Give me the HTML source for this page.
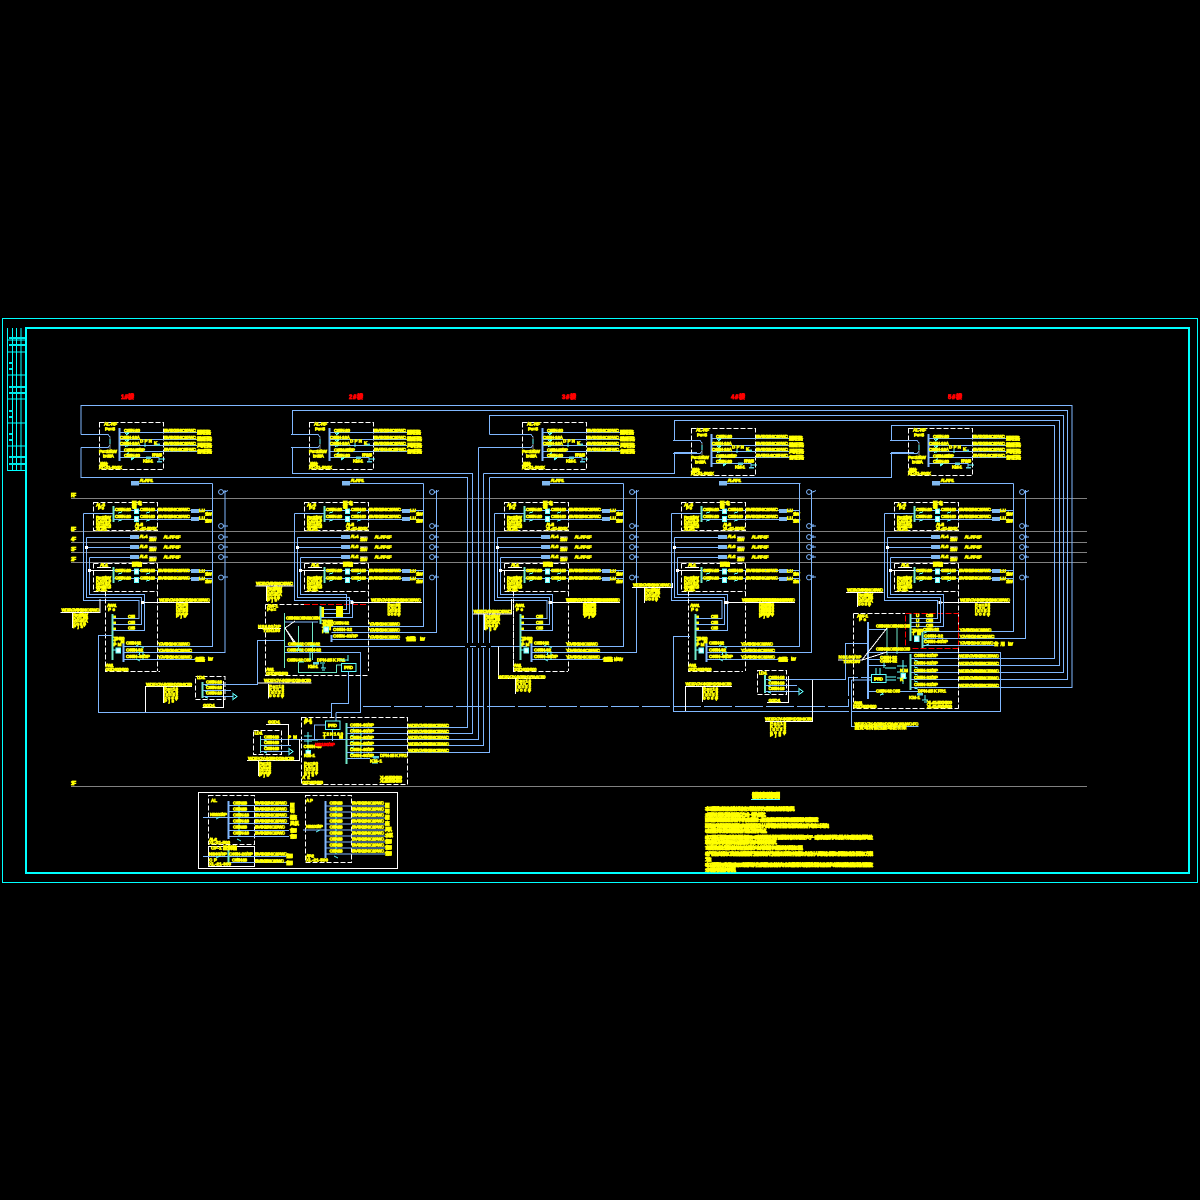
<!DOCTYPE html>
<html><head><meta charset="utf-8"><style>
html,body{margin:0;padding:0;background:#000}
svg{display:block}
text{font-family:"Liberation Sans","Noto Sans CJK SC",sans-serif;font-weight:700;font-size:4.6px;fill:#ff0;stroke:#ff0;stroke-width:.75}
.k text,text.k{font-size:5px;stroke-width:.8}
path,rect,line{shape-rendering:crispEdges}
.b{fill:none;stroke:#80b8ff;stroke-width:1}
.bb{fill:none;stroke:#80b8ff;stroke-width:2}
.g{fill:none;stroke:#70e8c8;stroke-width:1}
.gg{fill:none;stroke:#70e8c8;stroke-width:1.6}
.c{fill:none;stroke:#60ffff;stroke-width:1}
.w{fill:none;stroke:#fff;stroke-width:1}
.d{fill:none;stroke:#fff;stroke-width:1;stroke-dasharray:5 2}
.r{fill:none;stroke:#f00;stroke-width:1;stroke-dasharray:6 2}
.t{fill:#80b8f0;stroke:none}
.s{fill:#e8ffff;stroke:#60ffff;stroke-width:.8}
.y{fill:#ff0;stroke:none}
</style></head><body>
<svg width="1200" height="1200" viewBox="0 0 1200 1200" xmlns="http://www.w3.org/2000/svg">
<rect width="1200" height="1200" fill="#000"/>
<!-- frame -->
<rect x="2.5" y="318.5" width="1195" height="564" fill="none" stroke="#00ffff"/>
<rect x="26" y="328" width="1163" height="545" fill="none" stroke="#00ffff" stroke-width="2"/>
<path fill="none" stroke="#00ffff" stroke-width="1" d="M7.5 328V470.5H26M12.5 328V470.5M16.5 328V470.5M21 328V470.5M7.5 340H26M7.5 352H26M7.5 375H26M7.5 399H26M7.5 423H26M7.5 446H26"/>
<g fill="#00e8e8"><rect x="9" y="337" width="16" height="2"/><rect x="9" y="344" width="16" height="2"/><rect x="9" y="362" width="4" height="2"/><rect x="9" y="368" width="3" height="2"/><rect x="9" y="386" width="16" height="2"/><rect x="9" y="392" width="16" height="2"/><rect x="9" y="410" width="4" height="2"/><rect x="9" y="416" width="3" height="2"/><rect x="9" y="433" width="3" height="2"/><rect x="9" y="439" width="3" height="2"/><rect x="9" y="456" width="16" height="2"/><rect x="9" y="463" width="16" height="2"/></g>

<!-- floor lines -->
<path fill="none" stroke="#808080" d="M71 498.5H1087M71 531.5H1087M71 542.5H1087M71 552.5H1087M71 562.5H1087M71 786.5H1087"/>
<g class="k"><text x="71" y="497" textLength="5">RF</text><text x="71" y="531" textLength="5">5F</text><text x="71" y="541" textLength="5">4F</text><text x="71" y="551" textLength="5">3F</text><text x="71" y="561" textLength="5">2F</text><text x="71" y="785" textLength="5">1F</text></g>

<!-- titles -->
<g style="fill:#f00"><text x="121" y="399" textLength="13" style="fill:#f00;stroke:#f00;font-size:6px;stroke-width:.8">1#楼</text><text x="349" y="399" textLength="14" style="fill:#f00;stroke:#f00;font-size:6px;stroke-width:.8">2#楼</text><text x="562" y="399" textLength="14" style="fill:#f00;stroke:#f00;font-size:6px;stroke-width:.8">3#楼</text><text x="731" y="399" textLength="14" style="fill:#f00;stroke:#f00;font-size:6px;stroke-width:.8">4#楼</text><text x="948" y="399" textLength="14" style="fill:#f00;stroke:#f00;font-size:6px;stroke-width:.8">5#楼</text></g>

<!-- long feeders -->
<path class="b" d="M81 434.5V405.5H1072V687.5H946M81 447.5V477.5H467.5V643M467.5 648V727.5H407"/>
<path class="b" d="M292.5 434.5V410.5H1067.5V679.5H946M292.5 447.5V473.5H472.5V643M472.5 648V733.5H407"/>
<path class="b" d="M489.5 434.5V415.5H1063.5V672.5H946M478.5 447.5H528M478.5 447.5V643M478.5 648V739.5H407"/>
<path class="b" d="M674.5 440.5V420.5H1059.5V665.5H946M674.5 440.5H697M483.5 473.5H674.5V452.5H697M483.5 473.5V643M483.5 648V745.5H407"/>
<path class="b" d="M891.5 440.5V425.5H1054.5V658.5H946M891.5 440.5H914M489.5 477.5H891.5V452.5H914M489.5 477.5V643M489.5 648V752.5H407"/>
<path class="b" d="M292.5 434.5H315M292.5 447.5V449M292.5 447.5H315M489.5 434.5H528"/>
<path class="b" d="M319 646.5H465M470 646.5H476M481 646.5H486M491 646.5H527"/>
<path class="b" stroke-dasharray="28 3" d="M363 706.5H848.5V677.5H880"/>

<!-- TOP UNIT -->
<g id="t">
<rect class="d" x="99.5" y="422.5" width="64" height="47"/>
<path class="bb" d="M119.5 428V461"/>
<path class="b" d="M81 434.5H108L110 437M81 447.5H108L110 445M119.5 432.5H197M119.5 439.5H197M119.5 445.5H197M119.5 451.5H197M119.5 457.5H159V462"/>
<path fill="none" stroke="#888" d="M110 437V449"/>
<path class="c" d="M110 439V444M125 433.5l4-1M129 433l-3 2M125 440.5l4-1M129 440l-3 2M125 446.5l4-1M129 452.5l-3 2M131 458.5l4-1M134 458l-3 2M145 443V447M159 459h6"/>
<rect x="155" y="443.5" width="5" height="2.5" fill="#5fd0e0"/><rect x="146" y="456.5" width="5" height="2.5" fill="#5fd0e0"/><rect x="157" y="461" width="5" height="1.5" fill="#5fd0e0"/>
<text x="104" y="425.5" textLength="13">AL-RF</text><text x="105" y="430.5" textLength="10">Pe=5</text><text x="124" y="432" textLength="16">C65N-20</text><text x="120" y="439" textLength="20">C65N-16A</text><text x="120" y="445" textLength="20">C65N-16A</text><text x="124" y="451.5" textLength="21">C65N-25/3P</text><text x="124" y="457" textLength="16">C65N-20</text><text x="140" y="442.5" textLength="12">DPN</text><text x="154" y="444.5" textLength="5">K</text><text x="143" y="462.5" textLength="10">KM-1</text><text x="152" y="456.5" textLength="10">FR1-25</text>
<text x="99" y="453" textLength="18">Pe=15kW</text><text x="103" y="457.5" textLength="11">Ic=28A</text><text x="100" y="466" textLength="8">箱体</text><text x="99" y="469" textLength="23">XL-21-500X</text>
<text x="164" y="432" textLength="32">BV-3X2.5-SC20-WC</text><text x="164" y="439" textLength="32">BV-3X2.5-SC20-WC</text><text x="164" y="445" textLength="32">BV-3X2.5-SC20-WC</text><text x="164" y="451" textLength="32">BV-5X4-SC25-WC</text>
<text x="197" y="434" textLength="14">照明回路</text><text x="197" y="440.5" textLength="15">插座回路</text><text x="197" y="447" textLength="15">风机回路</text><text x="197" y="453" textLength="15">备用回路</text>
</g>
<use href="#t" x="210"/><use href="#t" x="423"/><use href="#t" x="592" y="6"/><use href="#t" x="809" y="6"/>

<!-- FLOOR UNIT -->
<g id="f">
<rect class="d" x="93.5" y="502.5" width="64" height="28"/>
<path class="d" d="M93.5 563.5H157.5M93.5 563.5V591.5H157.5M157.5 563.5V671"/>
<path class="gg" d="M113.5 506V522M113.5 567V583"/>
<path class="b" d="M113.5 510.5H212M113.5 519.5H212M113.5 570.5H212M113.5 578.5H212"/>
<path class="b" d="M83.5 513.5H113M83.5 513.5V600.5H120M86.5 537.5H130M86.5 537.5V597.5H120M86.5 547.5H130M89.5 557.5H130M89.5 557.5V594.5H120"/>
<path class="w" d="M89.5 570.5H113"/>
<rect x="85" y="546" width="3" height="3" fill="#fff"/><rect x="88" y="569" width="3" height="3" fill="#fff"/>
<rect class="t" x="191" y="509" width="8" height="4"/><rect class="t" x="191" y="517" width="8" height="4"/><rect class="t" x="191" y="569" width="8" height="4"/><rect class="t" x="191" y="577" width="8" height="4"/>
<rect class="t" x="130" y="535" width="9" height="4"/><rect class="t" x="130" y="545" width="9" height="4"/><rect class="t" x="130" y="555" width="9" height="4"/>
<rect class="t" x="131" y="481" width="8" height="4.5"/>
<path class="b" d="M139 483.5H212.5"/>
<rect class="s" x="134.5" y="509" width="4" height="4.5"/><rect class="s" x="134.5" y="516.5" width="4" height="5"/><rect class="s" x="134.5" y="569" width="4" height="5"/><rect class="s" x="134.5" y="577.5" width="4" height="5"/>
<path class="c" d="M118 513l4-1M118 521l4-1M146 513l4-1M146 521l4-1M118 574l4-1M118 581l4-1M146 574l4-1M146 581l4-1"/>
<g class="b"><circle cx="221" cy="492" r="2.4"/><circle cx="221" cy="526" r="2.4"/><circle cx="221" cy="537" r="2.4"/><circle cx="221" cy="547" r="2.4"/><circle cx="221" cy="557" r="2.4"/><circle cx="221" cy="577.5" r="2.4"/></g>
<path class="b" d="M223 492.5l3-1 2-1M223 526h5M225 524v3M223 537h5M225 535v3M223 547h5M225 545v3M223 557h5M225 555v3M223 577h5M225 575v3"/>
<text x="139.5" y="482" textLength="13.5">AL-RF-1</text>
<text x="96" y="506.5" textLength="9">AL-5</text><text x="98" y="509.5" textLength="6">Pe</text><text x="132" y="505" textLength="10">配电</text><text x="132" y="508" textLength="10">箱</text>
<text x="115" y="511" textLength="16">C65N-20</text><text x="140" y="511" textLength="15">C65N-20</text><text x="115" y="518" textLength="16">C65N-20</text><text x="140" y="518" textLength="15">C65N-20</text>
<text x="158" y="511" textLength="32">BV-3X2.5-SC20-WC</text><text x="158" y="518" textLength="32">BV-3X2.5-SC20-WC</text>
<text x="199" y="512" textLength="6">LU</text><text x="205" y="515.5" textLength="7">1.5kW</text><text x="199" y="519.5" textLength="6">LU</text><text x="205" y="522.5" textLength="7">1.5kW</text>
<text x="96" y="519" textLength="15">Pe=10kW</text><text x="96" y="522" textLength="15">Kx=0.9</text><text x="96" y="525" textLength="15">Ic=19A</text><text x="96" y="528" textLength="15">cosφ=.8</text><text x="96" y="530.5" textLength="11">XL-21</text>
<text x="135" y="526" textLength="8">AL-5</text><text x="135" y="530" textLength="22">XL-21-500X</text>
<text x="139.5" y="538" textLength="8">AL-4</text><text x="149" y="541" textLength="7.5">1.5kW</text><rect x="149" y="536.5" width="7.5" height="1" fill="#fff"/><text x="163.5" y="538.5" textLength="17">AL-RF-1F</text>
<text x="139.5" y="548" textLength="8">AL-3</text><text x="149" y="551" textLength="7.5">1.5kW</text><rect x="149" y="546.5" width="7.5" height="1" fill="#fff"/><text x="163.5" y="548.5" textLength="17">AL-RF-1F</text>
<text x="139.5" y="558" textLength="8">AL-2</text><text x="149" y="561" textLength="7.5">1.5kW</text><rect x="149" y="556.5" width="7.5" height="1" fill="#fff"/><text x="163.5" y="558.5" textLength="17">AL-RF-1F</text>
<text x="100" y="566.5" textLength="8">AL-1</text><rect x="97" y="567" width="14" height="1" fill="#fff"/><text x="132" y="566" textLength="10">配电箱</text>
<text x="115" y="572" textLength="16">C65N-20</text><text x="140" y="572" textLength="15">C65N-20</text><text x="115" y="579.5" textLength="16">C65N-20</text><text x="140" y="579.5" textLength="15">C65N-20</text>
<text x="158" y="572" textLength="32">BV-3X2.5-SC20-WC</text><text x="158" y="579.5" textLength="32">BV-3X2.5-SC20-WC</text>
<text x="199" y="572.5" textLength="6">LU</text><text x="205" y="575.5" textLength="7">1.5kW</text><text x="199" y="580" textLength="6">LU</text><text x="205" y="583" textLength="7">1.5kW</text>
<text x="96" y="579.5" textLength="15">Pe=10kW</text><text x="96" y="582.5" textLength="15">Kx=0.9</text><text x="96" y="585.5" textLength="15">Ic=19A</text><text x="96" y="588.5" textLength="15">cosφ=.8</text><text x="96" y="591" textLength="11">XL-21</text>
</g>
<use href="#f" x="211"/><use href="#f" x="411"/><use href="#f" x="588"/><use href="#f" x="801"/>

<!-- METER UNIT -->
<g id="m">
<path class="d" d="M105.5 591.5V671.5H160"/>
<path class="gg" d="M112.5 614V660"/>
<path class="bb" d="M123.5 642V662"/>
<path class="b" d="M115 600.5H139V618.5H112.5M115 597.5H141.5V624.5H112.5M115 594.5H144.5V630.5H112.5M123.5 646.5H157M123.5 652.5H157M123.5 659.5H195"/>
<path class="c" d="M136 646l4-2M140 646l4 2M136 652l4-2M140 652l-1 3M136 659l4 2M140 657l3-1M143 651v9M112.5 650H118"/>
<rect class="s" x="116" y="648" width="4.5" height="5"/>
<rect class="y" x="113.5" y="615.5" width="2.5" height="2.5"/><rect class="y" x="113.5" y="621.5" width="2.5" height="2.5"/><rect class="y" x="113.5" y="627.5" width="2.5" height="2.5"/>
<text x="128" y="618" textLength="7">C65</text><text x="128" y="624" textLength="7">C65</text><text x="128" y="629.5" textLength="7">C65</text>
<text x="107" y="607" textLength="9.5">AW-1</text><text x="108" y="611" textLength="7">Pe</text>
<text x="113.5" y="640" textLength="11">T2N160</text><text x="113.5" y="643" textLength="11">TM</text><text x="113.5" y="646" textLength="8">PM</text>
<text x="126" y="644.5" textLength="15">C65N-32</text><text x="126" y="651.5" textLength="17">C65N-32</text><text x="126" y="658" textLength="24">C65N-40/3P</text>
<text x="158" y="645.5" textLength="32">YJV-5X10-SC32-WC</text><text x="158" y="652" textLength="34">YJV-5X10-SC32-WC</text><text x="158" y="658.5" textLength="34">YJV-5X10-SC32-WC</text>
<text x="195" y="661" textLength="10">备用回路</text><text x="208" y="660.5" textLength="5">kW</text>
<text x="105.5" y="667" textLength="8">AW-1</text><text x="105.5" y="671" textLength="23">GGD-800X600</text>
<path class="w" d="M142 602.5H210"/><rect x="141" y="601" width="3" height="3" fill="#fff"/>
<text x="159" y="601.5" textLength="51">WDZ-YJY-4X35+1X16-SC63-WC</text>
<text x="176" y="606" textLength="12">Pe=35</text><text x="176" y="609" textLength="12">Kx=.8</text><text x="176" y="612" textLength="12">Ic=56</text><text x="176" y="615" textLength="12">cosφ</text><text x="176" y="617.5" textLength="10">Pjs</text>
</g>
<use href="#m" x="408"/><use href="#m" x="583"/>

<!-- risers -->
<path class="b" d="M212.5 483.5V646.5H157M225 490V652.5H157"/>
<path class="b" d="M423.5 483.5V626.5H333M436.5 490V632.5H333"/>
<path class="b" d="M623.5 483.5V646.5H565M636.5 490V652.5H565"/>
<path class="b" d="M799.5 483.5V646.5H740M811.5 490V652.5H740"/>
<path class="b" d="M1013.5 483.5V631.5H923M1025.5 490V638.5H923"/>

<!-- G1 left -->
<path class="w" d="M60.5 612.5H100V599"/><path class="w" d="M72.5 613V628"/>
<text x="61.5" y="611.5" textLength="38">WDZ-YJY-5X16-SC40-WC</text>
<text x="73" y="616.5" textLength="15">Pe=25kW</text><text x="73" y="619.5" textLength="15">Kx=.85</text><text x="73" y="622.5" textLength="15">Ic=40A</text><text x="73" y="625.5" textLength="13">cosφ</text><text x="73" y="628" textLength="10">Pjs</text>
<path class="b" d="M112.5 635.5H98.5V712.5H331.5V703.5H348.5V672M336 712.5H360.5V652.5H286M336 712.5V721M331.5 712.5V717"/>
<path class="w" d="M145.5 712V686.5H192"/>
<text x="146" y="686" textLength="46">WDZ-YJY-4X25+1X16-SC50</text>
<path class="w" d="M163.5 687V703"/>
<text x="164" y="690.5" textLength="14">Pe=18</text><text x="164" y="693.5" textLength="14">Kx=.9</text><text x="164" y="696.5" textLength="14">Ic=32</text><text x="164" y="699.5" textLength="14">cosφ</text><text x="164" y="702.5" textLength="10">Pjs</text>
<rect class="d" x="195.5" y="676.5" width="29.5" height="23"/>
<path class="gg" d="M202.5 682V698"/>
<path class="b" d="M202.5 684.5H257.5V640.5H284M202.5 690.5H231M202.5 696.5H233"/>
<path class="w" d="M223.5 681V707.5H202.5"/>
<path class="c" d="M233 693.5l4 3-4 3zM205 685l3 1M205 691l3 1M205 697l3 1"/>
<text x="197" y="679" textLength="8">LD-1</text><text x="206" y="683.5" textLength="16">C65N-16</text><text x="206" y="689" textLength="16">C65N-16</text><text x="206" y="694.5" textLength="16">C65N-16</text><text x="203" y="707" textLength="12">GGD-1</text>

<!-- G2 left & meter -->
<path class="w" d="M255.5 586H293.5M266.5 586V601"/>
<text x="256" y="585" textLength="37">WDZ-YJY-5X16-SC40-WC</text>
<text x="267" y="590" textLength="15">Pe=25kW</text><text x="267" y="593" textLength="15">Kx=.85</text><text x="267" y="596" textLength="15">Ic=40A</text><text x="267" y="599" textLength="13">cosφ</text><text x="267" y="601.5" textLength="10">Pjs</text>
<path class="d" d="M265.5 604.5V675.5H367.5M265.5 604.5H304"/>
<path class="r" d="M304 604.5H367"/>
<path class="g" d="M284.5 613V668"/>
<path class="gg" d="M320.5 606V624"/>
<path class="g" d="M298.5 626V650M312.5 622V660M298.5 662V672.5H336.5V665H341"/>
<path class="b" d="M285 622H318M285 652.5H286M285 646.5H319"/>
<path class="b" d="M305 594.5H346.5V609.5H321M305 597.5H349.5V613.5H321M305 600.5H352.5V617.5H321"/>
<path class="w" d="M285 628L295 621M285 628L297 645M285 628L294 643M258 628.5H281"/>
<rect class="y" x="321.5" y="607" width="2.5" height="10"/><rect class="y" x="336" y="606" width="7" height="11"/>
<text x="267" y="607.5" textLength="11">AW-1</text><text x="267" y="611" textLength="9">Pe=</text>
<text x="258" y="628" textLength="23">NS160/3P</text><text x="263" y="632" textLength="17">T2N160</text>
<text x="286" y="619.5" textLength="34">C65N-32 C65N-32 C65N</text><text x="322" y="623" textLength="11">T2N160</text><text x="322" y="626.5" textLength="11">T2N160</text><text x="322" y="630" textLength="9">TM</text><text x="322" y="633" textLength="7">PM</text>
<text x="333" y="624.5" textLength="16">C65N-32</text><text x="333" y="631" textLength="19">C65N-32</text><text x="333" y="637.5" textLength="25">C65N-40/3P</text>
<text x="369" y="625.5" textLength="31">YJV-5X10-SC32-WC</text><text x="369" y="631.5" textLength="31">YJV-5X10-SC32-WC</text><text x="369" y="638.5" textLength="31">YJV-5X10-SC32-WC</text><text x="406" y="640.5" textLength="10">备用回路</text><text x="420" y="640.5" textLength="5">kW</text>
<path class="bb" d="M331.5 635V642"/>
<path class="b" d="M331.5 626.5H367M331.5 632.5H367M331.5 639.5H400"/>
<rect class="s" x="324" y="627" width="4.5" height="5"/>
<text x="288" y="645.5" textLength="32">C65N-32 C65N-32</text><text x="287" y="651.5" textLength="34">C65N-32 C65N-32</text><text x="287" y="661.5" textLength="24">C65N-32 C65</text><text x="317" y="661.5" textLength="28">DPN-25 K FR1</text><text x="308" y="668" textLength="10">KM-1</text><text x="266" y="671" textLength="8">AW-1</text><text x="266" y="675" textLength="22">GGD-800X600</text>
<path class="c" d="M296 646h6M296 650h6M310 646h6M310 652v8M299 662h5M320 663h5M323 664v4M321 668h5M322 670h3M340 660h8M348 655v6"/>
<rect x="313" y="662" width="6" height="2.5" fill="#5fd0e0"/>
<rect x="341.5" y="663.5" width="14.5" height="8" fill="#000" stroke="#60ffff"/>
<text x="344" y="669.2" textLength="9">IP-RD</text>
<path class="w" d="M258 683H311.5"/><text x="264" y="682" textLength="47">WDZ-YJY-4X25+1X16-SC50</text>
<path class="w" d="M268.5 684V698.5"/>
<text x="269" y="688" textLength="15">Pe=18</text><text x="269" y="691" textLength="15">Kx=.9</text><text x="269" y="694" textLength="15">Ic=32</text><text x="269" y="697" textLength="15">cosφ</text>
<path class="w" d="M352 602.5H422"/><rect x="350.5" y="601" width="3" height="3" fill="#fff"/>
<text x="371" y="601.5" textLength="50">WDZ-YJY-4X35+1X16-SC63-WC</text>
<text x="387.5" y="606.5" textLength="13">Pe=35</text><text x="387.5" y="609.5" textLength="13">Kx=.8</text><text x="387.5" y="612.5" textLength="13">Ic=56</text><text x="387.5" y="615.5" textLength="13">cosφ</text>
<path class="b" d="M348.5 672V703"/>

<!-- G3 left -->
<path class="w" d="M473 614H511.5V599M484.5 614V630"/>
<text x="473.5" y="613" textLength="38">WDZ-YJY-5X16-SC40-WC</text>
<text x="485" y="618" textLength="15">Pe=25kW</text><text x="485" y="621" textLength="15">Kx=.85</text><text x="485" y="624" textLength="15">Ic=40A</text><text x="485" y="627" textLength="13">cosφ</text><text x="485" y="630" textLength="11">Pjs</text>
<path class="d" d="M513.5 604V671.5"/>
<path class="w" d="M498.5 646.5V678.5H545"/>
<text x="498.5" y="678.5" textLength="47">WDZ-YJY-4X25+1X16-SC50</text>
<path class="w" d="M515.5 679V694"/>
<text x="516" y="682.5" textLength="15">Pe=18</text><text x="516" y="685.5" textLength="15">Kx=.9</text><text x="516" y="688.5" textLength="15">Ic=32</text><text x="516" y="691.5" textLength="15">cosφ</text>
<path class="w" d="M550 602.5H620"/><rect x="548.5" y="601" width="3" height="3" fill="#fff"/>
<text x="566" y="601.5" textLength="54">WDZ-YJY-4X35+1X16-SC63-WC</text>
<text x="583" y="606.5" textLength="13">Pe=35</text><text x="583" y="609.5" textLength="13">Kx=.8</text><text x="583" y="612.5" textLength="13">Ic=56</text><text x="583" y="615.5" textLength="13">cosφ</text>
<text x="614" y="661" textLength="9">kW</text>

<!-- G4 left -->
<path class="w" d="M632 587.5H672.5V583"/>
<text x="633" y="586.5" textLength="38">WDZ-YJY-5X16-SC40-WC</text>
<path class="w" d="M644.5 588V603"/>
<text x="645" y="591.5" textLength="15">Pe=25kW</text><text x="645" y="594.5" textLength="15">Kx=.85</text><text x="645" y="597.5" textLength="15">Ic=40A</text><text x="645" y="600.5" textLength="13">cosφ</text>
<path class="b" d="M690 636.5H673.5V711.5H849M852 711.5H1000.5V652.5H869"/>
<path class="w" d="M685.5 711V686.5H732"/>
<text x="685.5" y="685.5" textLength="46">WDZ-YJY-4X25+1X16-SC50</text>
<path class="w" d="M702.5 687V702"/>
<text x="703" y="690.5" textLength="15">Pe=18</text><text x="703" y="693.5" textLength="15">Kx=.9</text><text x="703" y="696.5" textLength="15">Ic=32</text><text x="703" y="699.5" textLength="15">cosφ</text>
<path class="w" d="M727 602.5H795"/><rect x="725.5" y="601" width="3" height="3" fill="#fff"/>
<text x="745" y="601.5" textLength="50">WDZ-YJY-4X35+1X16-SC63-WC</text>
<text x="761" y="606.5" textLength="13">Pe=35</text><text x="761" y="609.5" textLength="13">Kx=.8</text><text x="761" y="612.5" textLength="13">Ic=56</text><text x="761" y="615.5" textLength="13">cosφ</text>
<rect class="d" x="757.5" y="670.5" width="29" height="24"/>
<path class="gg" d="M765 675V693"/>
<path class="b" d="M765 679.5H845.5V643.5H860M765 685.5H797M765 691.5H799"/>
<path class="w" d="M788.5 676V702.5H767M812.5 680V721.5H765"/>
<path class="c" d="M799 688.5l4 3-4 3zM768 680l3 1M768 686l3 1M768 692l3 1"/>
<text x="759" y="674.5" textLength="8">LD-1</text><text x="768.5" y="679" textLength="16">C65N-16</text><text x="768.5" y="684.5" textLength="16">C65N-16</text><text x="768.5" y="690" textLength="16">C65N-16</text><text x="768.5" y="702" textLength="12">GGD-1</text>
<text x="765" y="720.5" textLength="47">WDZ-YJY-4X25+1X16-SC50</text>
<text x="770" y="725" textLength="16">Pe=18</text><text x="770" y="728" textLength="16">Kx=.9</text><text x="770" y="731" textLength="16">Ic=32</text><text x="770" y="734" textLength="16">cosφ</text><text x="770" y="736.5" textLength="11">Pjs</text>

<!-- G5 -->
<path class="w" d="M846 592.5H883.5M857.5 593V607"/>
<text x="847" y="591.5" textLength="36">WDZ-YJY-5X16-SC40-WC</text>
<text x="858" y="596.5" textLength="15">Pe=25kW</text><text x="858" y="599.5" textLength="15">Kx=.85</text><text x="858" y="602.5" textLength="15">Ic=40A</text><text x="858" y="605.5" textLength="13">cosφ</text>
<path class="w" d="M940 602.5H1010"/><rect x="938.5" y="601" width="3" height="3" fill="#fff"/>
<text x="960" y="601.5" textLength="50">WDZ-YJY-4X35+1X16-SC63-WC</text>
<text x="975" y="606.5" textLength="15">Pe=35</text><text x="975" y="609.5" textLength="15">Kx=.8</text><text x="975" y="612.5" textLength="15">Ic=56</text><text x="975" y="615.5" textLength="15">cosφ</text>
<path class="d" d="M853.5 613.5H905M853.5 613.5V708.5H958.5"/>
<path class="r" d="M905.5 613.5H958.5V648.5H905.5V613.5"/>
<path class="d" d="M958.5 648.5V708.5"/>
<path class="bb" d="M868 622V699"/>
<path class="gg" d="M910.5 614V641M922.5 632V648M910.5 654V690"/>
<path class="g" d="M887 628V655M897 628V654"/>
<path class="b" d="M845.5 643.5H868M868 629.5H886M868 652.5H880M868 659.5H880M868 665.5H886M868 691.5H876M900 691.5H926"/>
<path class="b" d="M898 600.5H937.5V618.5H911M898 597.5H940.5V622.5H911M898 594.5H943.5V626.5H911"/>
<path class="b" d="M922.5 631.5H958M922.5 638.5H958M922.5 645.5H995"/>
<path class="b" d="M910.5 658.5H958M910.5 665.5H958M910.5 672.5H958M910.5 679.5H958M910.5 687.5H958"/>
<path class="b" d="M851.5 680V726.5H918.5M851.5 680H880"/>
<path class="w" d="M838 660H862M862 660L887 628M862 660L887 652"/>
<path class="c" d="M897 666h10M897 672h10M897 678h10M903 660v24M914 660l4 1M914 667l4 1M914 674l4 1M914 681l4 1M914 688l4 1M880 691l3 3-3 1M880 658h6M884 660v8M924 633l5-2M924 640l5-2M924 646l5-2"/>
<rect x="917" y="693" width="6" height="2.5" fill="#5fd0e0"/><path class="c" d="M925 695v5M922 700h6M924 702h3"/>
<rect class="s" x="901" y="673.5" width="4.5" height="5"/><rect class="s" x="914.5" y="636" width="4.5" height="5.5"/>
<rect x="871.5" y="674.5" width="14.5" height="8" fill="#000" stroke="#60ffff"/><text x="874" y="680.3" textLength="9">IP-RD</text>
<path class="c" d="M876 668V674M880 668V674M885 668H896M886 677H896M886 680H896"/>
<text x="857" y="617.5" textLength="11">AW-1</text><text x="859" y="621" textLength="7">Pe</text>
<text x="876" y="627.5" textLength="34">C65N-32 C65N-32 C65</text>
<text x="876" y="650.5" textLength="34">C65N-32 C65N-32 C65</text>
<text x="912" y="632" textLength="11">T2N160</text><text x="912" y="635" textLength="9">TM</text>
<text x="916" y="617" textLength="2.5">U</text><text x="926" y="617" textLength="7">C65</text><text x="916" y="622" textLength="2.5">U</text><text x="926" y="622" textLength="7">C65</text><text x="916" y="627" textLength="2.5">U</text><text x="926" y="627" textLength="7">C65</text>
<text x="923" y="631" textLength="16">C65N-32</text><text x="924" y="637.5" textLength="19">C65N-32</text><text x="924" y="643" textLength="24">C65N-40/3P</text>
<text x="959.5" y="631.5" textLength="32">YJV-5X10-SC32-WC</text><text x="959.5" y="638" textLength="35">YJV-5X10-SC32-WC</text><text x="959.5" y="644.5" textLength="34">YJV-5X10-SC32-WC</text><text x="994" y="645.5" textLength="11">备用</text><text x="1008" y="645.5" textLength="5">kW</text>
<text x="880" y="659" textLength="17">C65N-32</text><text x="880" y="662.5" textLength="17">C65N-32</text>
<text x="838.5" y="658.5" textLength="23">NS160/3P</text><text x="843" y="663" textLength="17">T2N160</text>
<text x="900" y="672" textLength="8">KM</text><text x="900" y="681" textLength="6">K</text>
<text x="914" y="657" textLength="24">C65N-32/3P</text><text x="914" y="664.5" textLength="24">C65N-32/3P</text><text x="914" y="671.8" textLength="24">C65N-32/3P</text><text x="914" y="678.8" textLength="24">C65N-32/3P</text><text x="914" y="686" textLength="24">C65N-32/3P</text>
<text x="959" y="657.5" textLength="40">WDZ-YJY-5X25-SC50-WC</text><text x="959" y="665" textLength="40">WDZ-YJY-5X25-SC50-WC</text><text x="959" y="672.3" textLength="40">WDZ-YJY-5X25-SC50-WC</text><text x="959" y="679.3" textLength="40">WDZ-YJY-5X25-SC50-WC</text><text x="959" y="687" textLength="40">WDZ-YJY-5X25-SC50-WC</text>
<text x="876" y="692.5" textLength="24">C65N-32 C65</text><text x="918" y="692.5" textLength="28">DPN-25 K FR1</text><text x="909" y="699" textLength="11">KM-1</text>
<text x="853.5" y="704.5" textLength="9">AW-1</text><text x="853.5" y="708" textLength="23">GGD-800X600</text><text x="927" y="704" textLength="25">XL-21-500X800</text><text x="927" y="708" textLength="25">XL-21-500X800</text>
<text x="854.5" y="725.5" textLength="64">WDZ-YJY-4X35+1X16-SC63-WC-FC</text><text x="854.5" y="729" textLength="52">由变电所低压配电柜引来</text>

<!-- main box -->
<rect class="d" x="301.5" y="717.5" width="106" height="67"/>
<path class="gg" d="M346.5 723V764"/>
<path class="b" d="M346.5 727.5H407M346.5 733.5H407M346.5 739.5H407M346.5 745.5H407M346.5 752.5H407M346.5 758.5H370"/>
<rect x="325.5" y="721" width="14.5" height="8.5" fill="#000" stroke="#60ffff"/><text x="328" y="727" textLength="9">IP-RD</text>
<path class="b" d="M325 725H314.5V740"/><path class="b" d="M332.5 730V741M320 739.5H346"/>
<path class="c" d="M308 732V750M304 736h8M304 741h8M312 740h6M350 730l4-1M350 736l4-1M350 742l4-1M350 748l4-1M350 754l4-1M361 732v26M372 757h6M375 757v5M372 763h6"/>
<rect x="373" y="756" width="6" height="2.5" fill="#5fd0e0"/>
<rect class="s" x="306" y="750.5" width="4.5" height="4.5"/>
<text x="304" y="721.5" textLength="8">AL-1</text><text x="304" y="724" textLength="8">Pe</text>
<text x="323" y="735.5" textLength="20">T2N160</text><text x="323" y="738.5" textLength="20">TM</text>
<text x="303.5" y="748" textLength="18">C65N-40</text><text x="304" y="757" textLength="11">KM-1</text>
<text x="315" y="746" textLength="20" style="fill:#f00;stroke:#f00">NS160/3P</text>
<text x="304" y="765" textLength="14">Pe=60</text><text x="304" y="768" textLength="14">Kx=.8</text><text x="304" y="771" textLength="14">Ic=96</text><text x="304" y="774" textLength="14">cosφ</text><text x="304" y="776.5" textLength="10">Pjs</text>
<text x="302" y="779" textLength="8">AL</text><text x="302" y="784" textLength="21">GGD-800X600</text>
<text x="350" y="726.5" textLength="24">C65N-40/3P</text><text x="350" y="732.5" textLength="24">C65N-40/3P</text><text x="350" y="738.8" textLength="24">C65N-40/3P</text><text x="350" y="745" textLength="24">C65N-40/3P</text><text x="350" y="751" textLength="24">C65N-40/3P</text><text x="350" y="757" textLength="24">C65N-40/3P</text>
<text x="380" y="757" textLength="27">DPN-25 K FR1</text><text x="370" y="762.5" textLength="12">KM-1</text>
<text x="408" y="727" textLength="41">WDZ-YJY-5X25-SC50-WC</text><text x="408" y="733" textLength="41">WDZ-YJY-5X25-SC50-WC</text><text x="408" y="739" textLength="41">WDZ-YJY-5X25-SC50-WC</text><text x="408" y="745.5" textLength="41">WDZ-YJY-5X25-SC50-WC</text><text x="408" y="752" textLength="41">WDZ-YJY-5X25-SC50-WC</text>
<text x="380" y="779" textLength="22">XL-21-500X800</text><text x="380" y="782.5" textLength="22">XL-21-500X800</text>

<!-- small box left of main -->
<rect class="d" x="253.5" y="730.5" width="28" height="24"/>
<path class="g" d="M260.5 736V753"/>
<path class="b" d="M260.5 739.5H346M260.5 745.5H291M260.5 751.5H289"/>
<path class="w" d="M266 724.5H288.5V745M299.5 739V760.5H247"/>
<path class="c" d="M289 748.5l4 3-4 3zM264 740l3 1M264 746l3 1M264 752l3 1"/>
<text x="268" y="723.5" textLength="12">GGD-1</text><text x="254.5" y="734.5" textLength="8">LD-1</text><text x="264" y="738.5" textLength="15">C65N-16</text><text x="264" y="744" textLength="15">C65N-16</text><text x="264" y="750" textLength="15">C65N-16</text><text x="288" y="738.5" textLength="9">PM</text>
<text x="248" y="760" textLength="46">WDZ-YJY-4X25+1X16-SC50</text>
<path class="w" d="M258.5 761V776"/>
<text x="259" y="765" textLength="12">Pe=18</text><text x="259" y="768" textLength="12">Kx=.9</text><text x="259" y="771" textLength="12">Ic=32</text><text x="259" y="774" textLength="12">cosφ</text><text x="259" y="776.5" textLength="10">Pjs</text>

<!-- legend -->
<rect class="w" x="198.5" y="792.5" width="199" height="76"/>
<rect class="d" x="208.5" y="795.5" width="46" height="49"/>
<rect class="w" x="208.5" y="846.5" width="46" height="20"/>
<rect class="d" x="305.5" y="795.5" width="46" height="67"/>
<path class="gg" d="M228.5 801V839M325.5 801V858" style="stroke:#80b8ff"/>
<path class="gg" d="M228.5 849V864" style="stroke:#70e8c8"/>
<path class="b" d="M203 817.5H228M228.5 805.5H289M228.5 811.5H289M228.5 817.5H289M228.5 823.5H289M228.5 830.5H289M228.5 836.5H289M203 856.5H228M228.5 856.5H286M228.5 862.5H286"/>
<path class="b" d="M303 830H325M325.5 806H385M325.5 812H385M325.5 818H385M325.5 824H385M325.5 830H385M325.5 836H385M325.5 842H385M325.5 848H385M325.5 854H385"/>
<path class="c" d="M239 806v30M237 808l4 2M237 814l4 2M237 820l4 2M237 826l4 2M237 833l4 2M237 839l4 2M336 806v48M334 808l4 2M334 814l4 2M334 820l4 2M334 826l4 2M334 832l4 2M334 838l4 2M334 844l4 2M334 850l4 2M334 856l4 2M216 819l4-2M316 832l4-2M216 858l4-2M237 858l4 2"/>
<text x="211" y="802" textLength="6">AL</text><text x="210" y="816" textLength="17">NS100/3P</text><text x="209" y="841" textLength="8">AL-2</text><text x="209" y="844" textLength="21">XL-21-500</text>
<text x="233" y="804.5" textLength="14">C65N-16</text><text x="233" y="810.5" textLength="14">C65N-16</text><text x="233" y="816.5" textLength="16">C65N-16</text><text x="233" y="822.5" textLength="16">C65N-16</text><text x="233" y="828.5" textLength="14">C65N-16</text><text x="233" y="834.5" textLength="16">C65N-16</text>
<text x="255" y="804.5" textLength="32">BV-3X2.5-SC20-WC</text><text x="255" y="810.5" textLength="32">BV-3X2.5-SC20-WC</text><text x="255" y="816.5" textLength="32">BV-3X2.5-SC20-WC</text><text x="255" y="822.5" textLength="32">BV-3X2.5-SC20-WC</text><text x="255" y="828.5" textLength="30">BV-3X2.5-SC20-WC</text><text x="255" y="834.5" textLength="30">BV-3X2.5-SC20-WC</text>
<text x="290" y="807" textLength="4">照</text><text x="290" y="812.5" textLength="4">明</text><text x="290" y="819" textLength="7">插座</text><text x="290" y="825" textLength="9">风机</text><text x="290" y="832" textLength="7">备用</text><text x="290" y="838" textLength="7">备用</text>
<text x="211" y="849.5" textLength="26">CP-1 控制箱</text><text x="209" y="855.5" textLength="18">NS63/3P</text><text x="209" y="861.5" textLength="8">CP</text><text x="209" y="865.5" textLength="22">XL-21-300</text><text x="229" y="855.5" textLength="24">C65N-20/3P</text><text x="232" y="861.5" textLength="15">C65N-16</text>
<text x="255" y="855.5" textLength="32">BV-3X2.5-SC20-WC</text><text x="255" y="862.5" textLength="29">BV-3X2.5-SC20-WC</text><text x="286" y="857.5" textLength="7">备用</text><text x="286" y="864.5" textLength="7">备用</text>
<text x="306" y="802" textLength="7">AP</text><text x="306" y="828" textLength="17">NS100/3P</text><text x="306" y="857.5" textLength="8">AP-2</text><text x="306" y="861.5" textLength="22">XL-21-500</text>
<text x="329.5" y="804.5" textLength="13">C65N-16</text><text x="329.5" y="810.5" textLength="13">C65N-16</text><text x="329.5" y="816.5" textLength="13">C65N-16</text><text x="329.5" y="822.5" textLength="13">C65N-16</text><text x="329.5" y="828.5" textLength="13">C65N-16</text><text x="329.5" y="834.5" textLength="13">C65N-16</text><text x="329.5" y="840.5" textLength="13">C65N-16</text><text x="329.5" y="846.5" textLength="13">C65N-16</text><text x="329.5" y="852.5" textLength="13">C65N-16</text>
<text x="352" y="804.5" textLength="32">BV-3X2.5-SC20-WC</text><text x="352" y="810.5" textLength="32">BV-3X2.5-SC20-WC</text><text x="352" y="816.5" textLength="32">BV-3X2.5-SC20-WC</text><text x="352" y="822.5" textLength="32">BV-3X2.5-SC20-WC</text><text x="352" y="828.5" textLength="32">BV-3X2.5-SC20-WC</text><text x="352" y="834.5" textLength="32">BV-3X2.5-SC20-WC</text><text x="352" y="840.5" textLength="32">BV-3X2.5-SC20-WC</text><text x="352" y="846.5" textLength="32">BV-3X2.5-SC20-WC</text><text x="352" y="852.5" textLength="32">BV-3X2.5-SC20-WC</text>
<text x="385" y="807" textLength="4">照</text><text x="385" y="813" textLength="4">明</text><text x="385" y="819" textLength="4">插</text><text x="385" y="825" textLength="4">座</text><text x="385" y="831" textLength="7">风机</text><text x="385" y="837" textLength="8">水泵</text><text x="385" y="843" textLength="7">备用</text><text x="385" y="849" textLength="7">备用</text><text x="385" y="855" textLength="7">备用</text>

<!-- notes -->
<rect x="752" y="792" width="28" height="6.5" fill="#ff0"/>
<text x="752" y="798" textLength="28" style="font-size:7px;stroke-width:.9">设计说明</text>
<path fill="none" stroke="#60ffff" d="M751 799.5H780"/>
<g>
<text x="705" y="810.5" textLength="92" style="font-size:4.8px">1. 本工程配电系统采用放射式与树干式相结合的方式,电源由变电所引来,详见。</text>
<text x="705" y="816.5" textLength="64" style="font-size:4.8px">2. 本图所注导线规格及敷设方式一律为铜芯。</text>
<text x="705" y="821.5" textLength="116" style="font-size:4.8px">3. 配电箱安装高度除注明者外均为底边距地一点五米,暗装或明装详见平面图及相关图集要求。</text>
<text x="705" y="827.5" textLength="127" style="font-size:4.8px">4. 配电箱内断路器规格型号如有变更须经设计人员同意,所有回路均设漏电保护,动作电流三十毫安。</text>
<text x="705" y="832.5" textLength="65" style="font-size:4.8px">5. 全部配电线路穿钢管保护敷设至用电点。</text>
<text x="705" y="838.8" textLength="168" style="font-size:4.8px">6. 本工程低压配电系统接地型式采用TN-S系统,电源进线处作重复接地,接地电阻不大于一欧,所有金属外壳与保护线可靠连接,总等电位</text>
<text x="705" y="844" textLength="75" style="font-size:4.8px">联结做法详见国家标准图集的有关规定及要求。</text>
<text x="705" y="849.5" textLength="101" style="font-size:4.8px">7. 电缆桥架及线槽安装完毕后应做防火封堵处理,并可靠接地,详见施工图。</text>
<text x="705" y="855.5" textLength="168" style="font-size:4.8px">8. 电气设备安装施工及验收应遵照现行国家规范执行,如图纸与现场不符请及时与设计人员联系,以便及时调整修改设计及施工方案</text>
<text x="705" y="861" textLength="8" style="font-size:4.8px">为准。</text>
<text x="705" y="866.5" textLength="168" style="font-size:4.8px">9. 本工程消防用电设备采用双电源供电并在末端自动切换,火灾时切断非消防电源,消防线路均采用耐火电缆穿钢管暗敷设保护层厚度</text>
<text x="705" y="871.5" textLength="34" style="font-size:4.8px">10. 其他详见相关说明。</text>
</g>
</svg>
</body></html>
